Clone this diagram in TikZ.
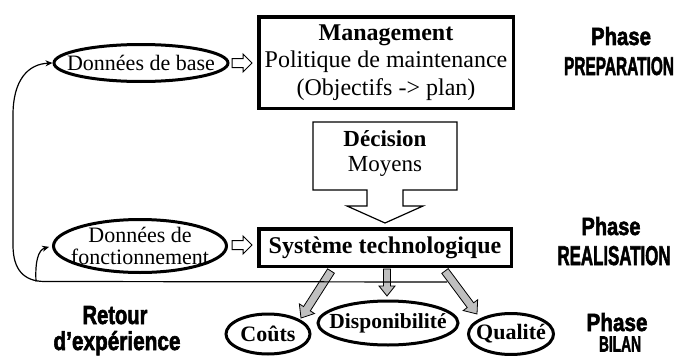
\documentclass[tikz,border=0pt]{standalone}
\usepackage{fontspec}
\setmainfont{Liberation Serif}
\newfontfamily\phasefont{Liberation Sans}[BoldFeatures={FakeBold=2.5}]
\usetikzlibrary{shapes.geometric,calc,arrows.meta}

% block arrow: #1 style, #2 start, #3 end, #4 half shaft, #5 half head, #6 head length
\newcommand\blockarrow[6]{%
  \path (#2) coordinate (ba-s) (#3) coordinate (ba-e);
  \path ($(ba-e)!#6!(ba-s)$) coordinate (ba-h);
  \filldraw[#1] ($(ba-s)!#4!90:(ba-e)$) -- ($(ba-h)!#4!-90:(ba-s)$) -- ($(ba-h)!#5!-90:(ba-s)$)
    -- (ba-e) -- ($(ba-h)!#5!90:(ba-s)$) -- ($(ba-h)!#4!90:(ba-s)$) -- ($(ba-s)!#4!-90:(ba-e)$) -- cycle;}

\tikzset{
  ell/.style={ellipse, draw, line width=3pt, inner sep=0pt},
  mainbox/.style={rectangle, draw, line width=3.5pt, inner sep=0pt, align=center},
  txt/.style={inner sep=0pt, align=center},
  phase/.style={inner sep=0pt, anchor=base, font=\phasefont\bfseries\fontsize{24}{24}\selectfont},
  hollow/.style={fill=white, draw=black, line width=1pt, line join=miter},
  grayarrow/.style={fill=black!25, draw=black, line width=0.8pt, line join=miter},
  fb/.style={line width=1.2pt, -{Stealth[length=7pt,width=6pt]}},
  decarrow/.style={draw, line width=1.2pt, line join=miter},
}

\begin{document}
\begin{tikzpicture}[x=1pt,y=-1pt]
\useasboundingbox (0,0) rectangle (675,356);

% main boxes
\node[mainbox, minimum width=254.5pt, minimum height=91.5pt,
      font=\fontsize{24}{27.5}\selectfont] (mgmt) at (386,62.5)
  {\textbf{Management}\\Politique de maintenance\\(Objectifs -> plan)};
\node[mainbox, minimum width=252.5pt, minimum height=37.5pt,
      font=\bfseries\fontsize{24}{24}\selectfont] (sys) at (385,247.5) {Système technologique};

% decision block arrow
\draw[decarrow] (313,122) -- (457,122) -- (457,190) -- (403,190) -- (403,206) -- (423,206)
  -- (385,223) -- (347,206) -- (367,206) -- (367,190) -- (313,190) -- cycle;
\node[txt, font=\fontsize{23}{25}\selectfont] (dec) at (385,153) {\textbf{Décision}\\Moyens};

% input ellipses
\node[ell, minimum width=174pt, minimum height=37pt] (base) at (141,63) {};
\node[txt, font=\fontsize{22}{22}\selectfont] (base-t) at (base) {Données de base};
\node[ell, minimum width=173pt, minimum height=53pt] (fonc) at (140,246) {};
\node[txt, font=\fontsize{22}{22}\selectfont] (fonc-t) at (fonc) {Données de\\fonctionnement};

% output ellipses
\node[ell, minimum width=84pt, minimum height=40pt] (couts) at (268,334) {};
\node[txt, font=\bfseries\fontsize{22}{22}\selectfont] (couts-t) at (couts) {Coûts};
\node[ell, minimum width=140pt, minimum height=44pt] (dispo) at (388,323) {};
\node[txt, font=\bfseries\fontsize{21.5}{22}\selectfont] (dispo-t) at (dispo) {Disponibilité};
\node[ell, minimum width=85pt, minimum height=41pt] (qual) at (511,334) {};
\node[txt, font=\bfseries\fontsize{22}{22}\selectfont] (qual-t) at (qual) {Qualité};

% hollow input arrows
\coordinate (h1s) at (232,63);  \coordinate (h1e) at (252,63);
\coordinate (h2s) at (232,245); \coordinate (h2e) at (252,245);
\blockarrow{hollow}{h1s}{h1e}{4.5pt}{9pt}{9pt}
\blockarrow{hollow}{h2s}{h2e}{4.5pt}{9pt}{9pt}

% gray output arrows
\coordinate (g1s) at (331,271); \coordinate (g1e) at (301,318);
\coordinate (g2s) at (387,269); \coordinate (g2e) at (387,296);
\coordinate (g3s) at (445,271); \coordinate (g3e) at (477,314);
\blockarrow{grayarrow}{g1s}{g1e}{4pt}{9pt}{11pt}
\blockarrow{grayarrow}{g2s}{g2e}{3.5pt}{8pt}{10pt}
\blockarrow{grayarrow}{g3s}{g3e}{4pt}{9pt}{11pt}

% feedback loop
\coordinate (fbstart) at (447,282);
\coordinate (fbsplit) at (36,281.5);
\draw[fb] (fbstart) -- (45,281.5) .. controls (24,281.5) and (13,270) .. (13,245)
  -- (13,115) .. controls (13,80) and (28,64) .. (base.west);
\draw[fb, shorten >=3pt] (fbsplit) .. controls (35,262) and (38,250) .. (fonc.west);

% phase labels
\node[phase] (p1a) at (621,45) {\resizebox{60pt}{18pt}{Phase}};
\node[phase] (p1b) at (619,75) {\resizebox{110pt}{18pt}{PREPARATION}};
\node[phase] (p2a) at (611,235) {\resizebox{59pt}{18pt}{Phase}};
\node[phase] (p2b) at (614,265) {\resizebox{113pt}{19pt}{REALISATION}};
\node[phase] (p3a) at (617,331) {\resizebox{61pt}{18pt}{Phase}};
\node[phase] (p3b) at (620,351.5) {\resizebox{42pt}{15pt}{BILAN}};
\node[phase] (r1) at (115,324) {\resizebox{65pt}{18pt}{Retour}};
\node[phase] (r2) at (117,350) {\resizebox{127pt}{19pt}{d’expérience}};
\end{tikzpicture}
\end{document}
